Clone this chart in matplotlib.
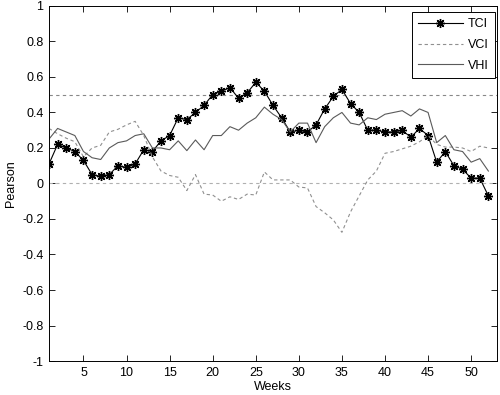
import numpy as np
import matplotlib
matplotlib.use('Agg')
from matplotlib import pyplot as plt

plt.rcParams['font.family'] = ['Liberation Sans', 'DejaVu Sans']

weeks = np.arange(1, 53)

tci = [0.11, 0.22, 0.20, 0.18, 0.13, 0.05, 0.04, 0.05, 0.10, 0.09,
       0.11, 0.19, 0.18, 0.24, 0.27, 0.37, 0.36, 0.40, 0.44, 0.50,
       0.52, 0.54, 0.48, 0.51, 0.57, 0.52, 0.44, 0.37, 0.29, 0.30,
       0.29, 0.33, 0.42, 0.49, 0.53, 0.45, 0.40, 0.30, 0.30, 0.29,
       0.29, 0.30, 0.26, 0.31, 0.27, 0.12, 0.18, 0.10, 0.08, 0.03,
       0.03, -0.07]

vci = [0.31, 0.28, 0.255, 0.235, 0.15, 0.20, 0.215, 0.29, 0.305, 0.33,
       0.35, 0.27, 0.15, 0.07, 0.045, 0.035, -0.04, 0.05, -0.06, -0.065,
       -0.10, -0.075, -0.09, -0.06, -0.065, 0.065, 0.02, 0.02, 0.02, -0.02,
       -0.025, -0.13, -0.165, -0.205, -0.275, -0.16, -0.07, 0.02, 0.07, 0.17,
       0.18, 0.195, 0.21, 0.235, 0.27, 0.22, 0.205, 0.205, 0.20, 0.18,
       0.21, 0.20]

vhi = [0.25, 0.31, 0.29, 0.27, 0.18, 0.145, 0.135, 0.20, 0.23, 0.24,
       0.27, 0.28, 0.20, 0.20, 0.19, 0.24, 0.185, 0.245, 0.19, 0.27,
       0.27, 0.32, 0.30, 0.34, 0.37, 0.43, 0.39, 0.36, 0.29, 0.34,
       0.34, 0.23, 0.32, 0.37, 0.40, 0.34, 0.33, 0.37, 0.36, 0.39,
       0.40, 0.41, 0.38, 0.42, 0.40, 0.23, 0.27, 0.19, 0.18, 0.12,
       0.14, 0.07]

yticks = np.round(np.arange(-1, 1.01, 0.2), 1)
ytick_labels = ['-1', '-0.8', '-0.6', '-0.4', '-0.2', '0', '0.2', '0.4', '0.6', '0.8', '1']
xticks = [5, 10, 15, 20, 25, 30, 35, 40, 45, 50]

fig = plt.figure(figsize=(5, 3.95), dpi=100)
ax = fig.add_axes([0.098, 0.086, 0.896, 0.899])

# reference lines
ax.axhline(0.5, color='#888888', lw=0.8, ls=(0, (3, 3)))
ax.axhline(0, color='#b0b0b0', lw=0.8, ls=(0, (3, 3)))

asterisk = (8, 2, 0)
ax.plot(weeks, tci, color='black', lw=0.8, marker=asterisk, markersize=6.5,
        markeredgewidth=1.0, label='TCI')
ax.plot(weeks, vci, color='#909090', lw=0.8, ls=(0, (3, 2.5)), label='VCI')
ax.plot(weeks, vhi, color='#5a5a5a', lw=0.8, label='VHI')

ax.set_xlim(1, 53)
ax.set_ylim(-1, 1)
ax.set_xticks(xticks)
ax.set_yticks(yticks)
ax.set_yticklabels(ytick_labels)
ax.tick_params(direction='in', length=4, width=0.6, labelsize=9,
               top=True, right=True, pad=4)
for s in ax.spines.values():
    s.set_linewidth(0.7)

ax.set_xlabel('Weeks', fontsize=9, labelpad=2)
ax.set_ylabel('Pearson', fontsize=9, labelpad=4)

leg = ax.legend(loc='upper right', bbox_to_anchor=(0.995, 0.983), borderaxespad=0,
                fontsize=9, numpoints=1, handlelength=3.6, fancybox=False,
                framealpha=1, edgecolor='black', borderpad=0.5, labelspacing=0.7,
                handletextpad=0.4)
leg.get_frame().set_linewidth(0.7)

plt.savefig('out.png', dpi=100)
